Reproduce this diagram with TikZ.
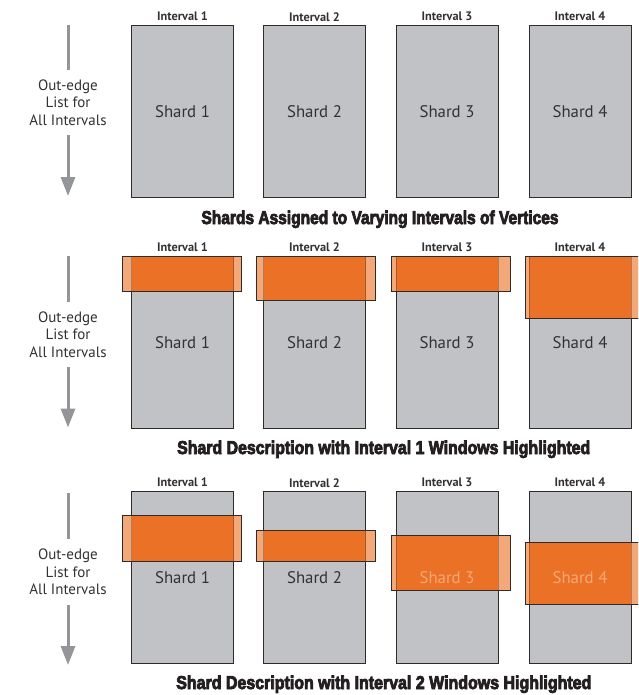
\documentclass[tikz,border=0pt]{standalone}
\usepackage{fontspec}
\setmainfont{PT Sans}
\newfontfamily\titlefont[BoldFeatures={FakeBold=4.5}]{Liberation Sans}
\usetikzlibrary{arrows.meta}
\definecolor{shardgray}{HTML}{C1C2C5}
\definecolor{edgedark}{HTML}{2E2B2C}
\definecolor{orangedeep}{HTML}{EA7125}
\definecolor{orangelight}{HTML}{F4A878}
\definecolor{arrowgray}{HTML}{939598}
\definecolor{textdark}{HTML}{333132}
\definecolor{titledark}{HTML}{231F20}
\tikzset{
  shardbox/.style={draw=edgedark, fill=shardgray, line width=0.9pt, minimum width=102pt,
    minimum height=172.5pt, anchor=north west, inner sep=0pt, outer sep=0pt},
  winbox/.style={fill=orangelight, minimum width=119pt, anchor=north west, inner sep=0pt, outer sep=0pt},
  winline/.style={draw=edgedark, line width=0.9pt},
  faintedge/.style={draw=edgedark, line width=0.6pt, draw opacity=0.35},
  shardtext/.style={font=\fontsize{16.8}{18}\selectfont, text=textdark, inner sep=0pt},
  peachtext/.style={font=\fontsize{16.8}{18}\selectfont, text=orangelight, inner sep=0pt},
  intlabel/.style={font=\bfseries\fontsize{12.3}{13}\selectfont, text=textdark, inner sep=0pt},
  sidelabel/.style={font=\fontsize{15}{17.5}\selectfont, text=textdark, align=center,
    minimum height=65pt, inner sep=0pt},
  arrowline/.style={draw=arrowgray, line width=3pt},
  arrowtip/.style={-{Triangle[width=14pt,length=19pt]}},
  titlelabel/.style={anchor=base, inner sep=0pt, text=titledark}
}
\begin{document}
\begin{tikzpicture}[x=1pt,y=-1pt]
\useasboundingbox (0,0) rectangle (638,695);
\clip (0,0) rectangle (638,695);

% ---------- shards ----------
\foreach \r/\top/\iy in {1/25/8.3, 2/256/9, 3/491/8.3}{
  \foreach \c/\lx in {1/131.5, 2/263.5, 3/396, 4/529}{
    \node[shardbox] (s\r\c) at (\lx,\top) {};
    \node[intlabel] (i\r\c) at ([yshift=\iy pt]s\r\c.north) {Interval \c};
  }
}

% ---------- windows row 2 ----------
\foreach \c/\wx/\wt/\wb in {1/122.3/256/291, 2/256.5/256/300.3, 3/391/256/291.3, 4/525.3/256/318.7}{
  \pgfmathsetmacro{\wh}{\wb-\wt}
  \node[winbox, minimum height=\wh pt] (w2\c) at (\wx,\wt) {};
  \fill[orangedeep] (s2\c.west |- w2\c.north) rectangle (s2\c.east |- w2\c.south);
  \draw[faintedge] (s2\c.west |- w2\c.north) -- (s2\c.west |- w2\c.south);
  \draw[faintedge] (s2\c.east |- w2\c.north) -- (s2\c.east |- w2\c.south);
  \draw[winline] (w2\c.north west) rectangle (w2\c.south east);
}

% ---------- windows row 3 ----------
\foreach \c/\wx/\wt/\wb in {1/122.3/515.3/561, 2/256.5/530/561, 3/391/535/590.7, 4/525.3/542.3/604.7}{
  \pgfmathsetmacro{\wh}{\wb-\wt}
  \node[winbox, minimum height=\wh pt] (w3\c) at (\wx,\wt) {};
  \fill[orangedeep] (s3\c.west |- w3\c.north) rectangle (s3\c.east |- w3\c.south);
  \draw[faintedge] (s3\c.west |- w3\c.north) -- (s3\c.west |- w3\c.south);
  \draw[faintedge] (s3\c.east |- w3\c.north) -- (s3\c.east |- w3\c.south);
  \draw[winline] (w3\c.north west) rectangle (w3\c.south east);
}

% ---------- shard texts ----------
\foreach \c in {1,2,3,4}{
  \node[shardtext] (t1\c) at ([yshift=-0.8pt]s1\c.center) {Shard \c};
  \node[shardtext] (t2\c) at ([yshift=-0.8pt]s2\c.center) {Shard \c};
}
\node[shardtext] (t31) at ([yshift=-0.8pt]s31.center) {Shard 1};
\node[shardtext] (t32) at ([yshift=-0.8pt]s32.center) {Shard 2};
\node[peachtext] (t33) at ([yshift=-0.8pt]s33.center) {Shard 3};
\node[peachtext] (t34) at ([yshift=-0.8pt]s34.center) {Shard 4};

% ---------- left arrows ----------
\foreach \r/\ty/\ly/\hy in {1/25/102.5/196, 2/256/334.5/427.5, 3/493/572/665}{
  \coordinate (a\r) at (68,\ty);
  \coordinate (h\r) at (68,\hy);
  \node[sidelabel] (l\r) at (68,\ly) {Out-edge\\List for\\All Intervals};
  \draw[arrowline] (a\r) -- (l\r);
  \draw[arrowline, arrowtip] (l\r) -- (h\r);
}

% ---------- titles ----------
\node[titlelabel] (title1) at (380,224) {\resizebox{357pt}{13.5pt}{\titlefont\bfseries Shards Assigned to Varying Intervals of Vertices}};
\node[titlelabel] (title2) at (383.7,454) {\resizebox{413pt}{13.5pt}{\titlefont\bfseries Shard Description with Interval 1 Windows Highlighted}};
\node[titlelabel] (title3) at (383.8,689) {\resizebox{415pt}{13.5pt}{\titlefont\bfseries Shard Description with Interval 2 Windows Highlighted}};
\end{tikzpicture}
\end{document}
